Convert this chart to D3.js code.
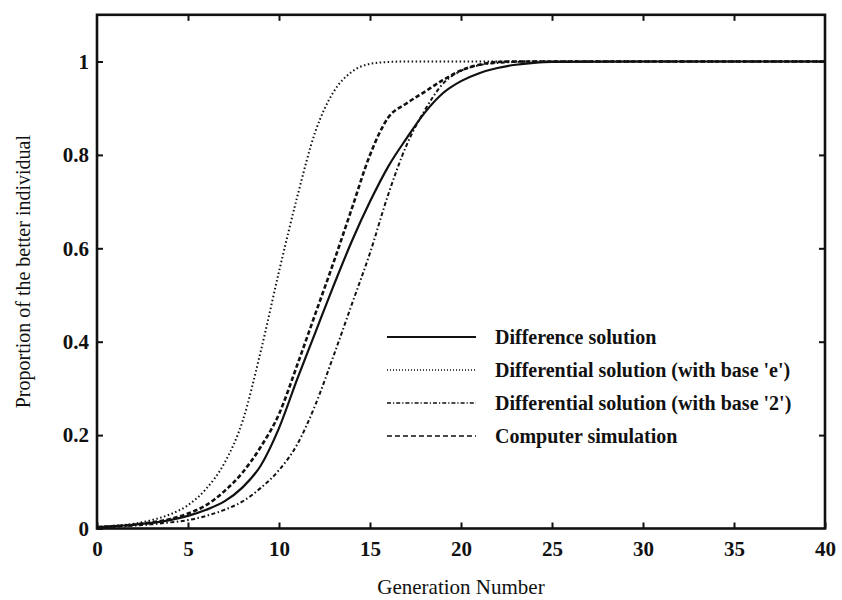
<!DOCTYPE html>
<html>
<head>
<meta charset="utf-8">
<script src="https://cdn.jsdelivr.net/npm/d3@7"></script>
<style>
  html, body { margin: 0; padding: 0; background: #ffffff; }
  svg { display: block; }
</style>
</head>
<body>
<svg id="chart" width="842" height="600"></svg>
<script>
// ---- data ----
const generations = [0,1,2,3,4,5,6,7,8,9,10,11,12,13,14,15,16,17,18,19,20,21,22,23,24,25,30,35,40];
const differenceSolution = [0.003,0.005,0.008,0.012,0.018,0.027,0.040,0.058,0.088,0.135,0.215,0.320,0.420,0.520,0.615,0.700,0.775,0.835,0.890,0.932,0.958,0.975,0.986,0.993,0.997,0.999,1.0,1.0,1.0];
const differentialBaseE = [0.003,0.006,0.010,0.018,0.030,0.050,0.085,0.140,0.230,0.380,0.550,0.710,0.850,0.935,0.978,0.995,0.999,1.0,1.0,1.0,1.0,1.0,1.0,1.0,1.0,1.0,1.0,1.0,1.0];
const differentialBase2 = [0.003,0.004,0.006,0.009,0.013,0.018,0.027,0.040,0.058,0.087,0.125,0.180,0.265,0.370,0.480,0.590,0.715,0.820,0.895,0.952,0.980,0.992,0.997,0.999,1.0,1.0,1.0,1.0,1.0];
const computerSimulation = [0.003,0.005,0.008,0.013,0.020,0.032,0.050,0.080,0.120,0.175,0.245,0.350,0.460,0.570,0.685,0.800,0.880,0.910,0.935,0.960,0.981,0.993,0.999,1.0,1.0,1.0,1.0,1.0,1.0];
const seriesNames = ["Difference solution", "Differential solution (with base 'e')", "Differential solution (with base '2')", "Computer simulation"];
const xTicks = [0,5,10,15,20,25,30,35,40];
const yTicks = [0,0.2,0.4,0.6,0.8,1];
const yTickLabels = ["0","0.2","0.4","0.6","0.8","1"];
const xTitle = "Generation Number";
const yTitle = "Proportion of the better individual";

// ---- layout ----
const FONT = '"Liberation Serif", "Times New Roman", Times, Tinos, "DejaVu Serif", "Noto Serif", serif';
const svg = d3.select("#chart");
const L = 97, R = 825, T = 14.8, B = 528.5;
const x = d3.scaleLinear().domain([0, 40]).range([L, R]);
const y = d3.scaleLinear().domain([0, 1.1]).range([B, T]);

const styles = [
  { data: differenceSolution, width: 2.2, dash: null, lw: 2.2, ldash: null },
  { data: differentialBaseE, width: 2.0, dash: "1.5,2.5", lw: 1.4, ldash: "1,2" },
  { data: differentialBase2, width: 2.0, dash: "4,2.5,1.5,2.5", lw: 1.6, ldash: "4,2,1.2,2" },
  { data: computerSimulation, width: 2.6, dash: "4.5,2.5", lw: 1.6, ldash: "5,3" }
];

// curves
const line = d3.line()
  .x(d => x(d[0]))
  .y(d => y(d[1]))
  .curve(d3.curveMonotoneX);

const g = svg.append("g");
styles.forEach(s => {
  const pts = generations.map((gen, i) => [gen, s.data[i]]);
  g.append("path")
    .attr("d", line(pts))
    .attr("fill", "none")
    .attr("stroke", "#111")
    .attr("stroke-width", s.width)
    .attr("stroke-dasharray", s.dash)
    .attr("stroke-linejoin", "round");
});

// axes (bottom/left with labels, top/right mirrored ticks), ticks inward
const tickLen = 6;
const axB = svg.append("g").attr("transform", `translate(0,${B})`)
  .call(d3.axisBottom(x).tickValues(xTicks).tickSize(-tickLen).tickPadding(10).tickFormat(d3.format("d")));
const axT = svg.append("g").attr("transform", `translate(0,${T})`)
  .call(d3.axisTop(x).tickValues(xTicks).tickSize(-tickLen).tickFormat(""));
const axL = svg.append("g").attr("transform", `translate(${L},0)`)
  .call(d3.axisLeft(y).tickValues(yTicks).tickSize(-tickLen).tickPadding(8).tickFormat((d, i) => yTickLabels[i]));
const axR = svg.append("g").attr("transform", `translate(${R},0)`)
  .call(d3.axisRight(y).tickValues(yTicks).tickSize(-tickLen).tickFormat(""));

[axB, axT, axL, axR].forEach(a => {
  a.attr("font-family", FONT).attr("font-size", 21);
  a.select(".domain").remove();
  a.selectAll(".tick line").attr("stroke", "#111").attr("stroke-width", 2);
  a.selectAll(".tick text")
    .attr("fill", "#111")
    .attr("font-family", FONT)
    .attr("font-size", 21)
    .attr("font-weight", "bold");
});
axB.selectAll(".tick text").attr("dy", "0.85em");
// remove top/right tick at the frame corners
axT.selectAll(".tick").filter(d => d === 0 || d === 40).remove();
axR.selectAll(".tick").filter(d => d === 0).remove();

// frame
svg.append("rect")
  .attr("x", L).attr("y", T)
  .attr("width", R - L).attr("height", B - T)
  .attr("fill", "none")
  .attr("stroke", "#111")
  .attr("stroke-width", 2.6);

// axis titles
svg.append("text")
  .attr("x", (L + R) / 2).attr("y", 594)
  .attr("text-anchor", "middle")
  .attr("font-family", FONT)
  .attr("font-size", 21)
  .attr("fill", "#111")
  .text(xTitle);
svg.append("text")
  .attr("transform", `translate(30,${(T + B) / 2}) rotate(-90)`)
  .attr("text-anchor", "middle")
  .attr("font-family", FONT)
  .attr("font-size", 20)
  .attr("fill", "#111")
  .text(yTitle);

// legend
const legendY = [337, 370, 403, 436];
const leg = svg.append("g");
styles.forEach((s, i) => {
  leg.append("line")
    .attr("x1", 387).attr("x2", 476)
    .attr("y1", legendY[i]).attr("y2", legendY[i])
    .attr("stroke", "#111")
    .attr("stroke-width", s.lw)
    .attr("stroke-dasharray", s.ldash);
  leg.append("text")
    .attr("x", 495).attr("y", legendY[i])
    .attr("dy", "0.33em")
    .attr("font-family", FONT)
    .attr("font-size", 20)
    .attr("font-weight", "bold")
    .attr("fill", "#111")
    .text(seriesNames[i]);
});
</script>
</body>
</html>
